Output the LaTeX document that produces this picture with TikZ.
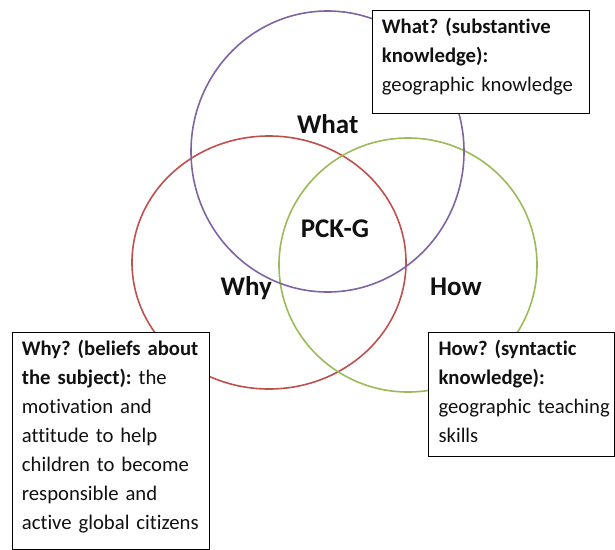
\documentclass[tikz,border=0pt]{standalone}
\usepackage{fontspec}
\setmainfont[Ligatures=NoCommon]{Carlito}
\usetikzlibrary{shapes.geometric}
\definecolor{cpurple}{HTML}{8064A2}
\definecolor{cred}{HTML}{C0504D}
\definecolor{cgreen}{HTML}{9BBB59}
\definecolor{ink}{HTML}{111111}
\frenchspacing
\begin{document}
\begin{tikzpicture}[x=1pt,y=-1pt,
  ring/.style={ellipse, draw, line width=1.6pt, inner sep=0pt},
  box/.style={draw=black, line width=1.4pt, fill=white, anchor=north west, inner sep=0pt},
  boxtext/.style={anchor=north west, inner sep=0pt, align=left, text=ink,
    font=\fontsize{20.7}{29}\selectfont, text width=#1},
  lbl/.style={font=\fontsize{27}{30}\selectfont\bfseries, inner sep=0pt, text=ink}]
\useasboundingbox (0,0) rectangle (615,549);
\fill[white] (0,0) rectangle (615,549);
% circles
\node[ring, draw=cred, minimum width=274pt, minimum height=253pt] (whyc) at (269,262.5) {};
\node[ring, draw=cgreen, minimum width=258pt, minimum height=254pt] (howc) at (408,265) {};
\node[ring, draw=cpurple, minimum width=273pt, minimum height=281pt] (whatc) at (327.5,151.5) {};
% labels
\node[lbl, anchor=base] (whatl) at (327.7,133.3) {What};
\node[lbl, anchor=base] (pck) at (335,237.3) {PCK-G};
\node[lbl, anchor=base west] (whyl) at (220.5,295) {Why};
\node[lbl, anchor=base west] (howl) at (430,295) {How};
% boxes
\node[box, minimum width=217pt, minimum height=103pt] (whatbox) at (372,10) {};
\node[boxtext=200pt] (whatt) at (381.7,13.3) {\rule{0pt}{20pt}{\bfseries What? (substantive}\\{\bfseries knowledge):}\\geographic knowledge};
\node[box, minimum width=197pt, minimum height=216.5pt] (whybox) at (12,332) {};
\node[boxtext=190pt] (whyt) at (21.7,335.3) {\rule{0pt}{20pt}{\bfseries Why? (beliefs about}\\{\bfseries the subject):} the\\motivation and\\attitude to help\\children to become\\responsible and\\active global citizens};
\node[box, minimum width=186pt, minimum height=124pt] (howbox) at (428,332) {};
\node[boxtext=180pt] (howt) at (438.3,335.3) {\rule{0pt}{20pt}{\bfseries How? (syntactic}\\{\bfseries knowledge):}\\geographic teaching\\skills};
\end{tikzpicture}
\end{document}
